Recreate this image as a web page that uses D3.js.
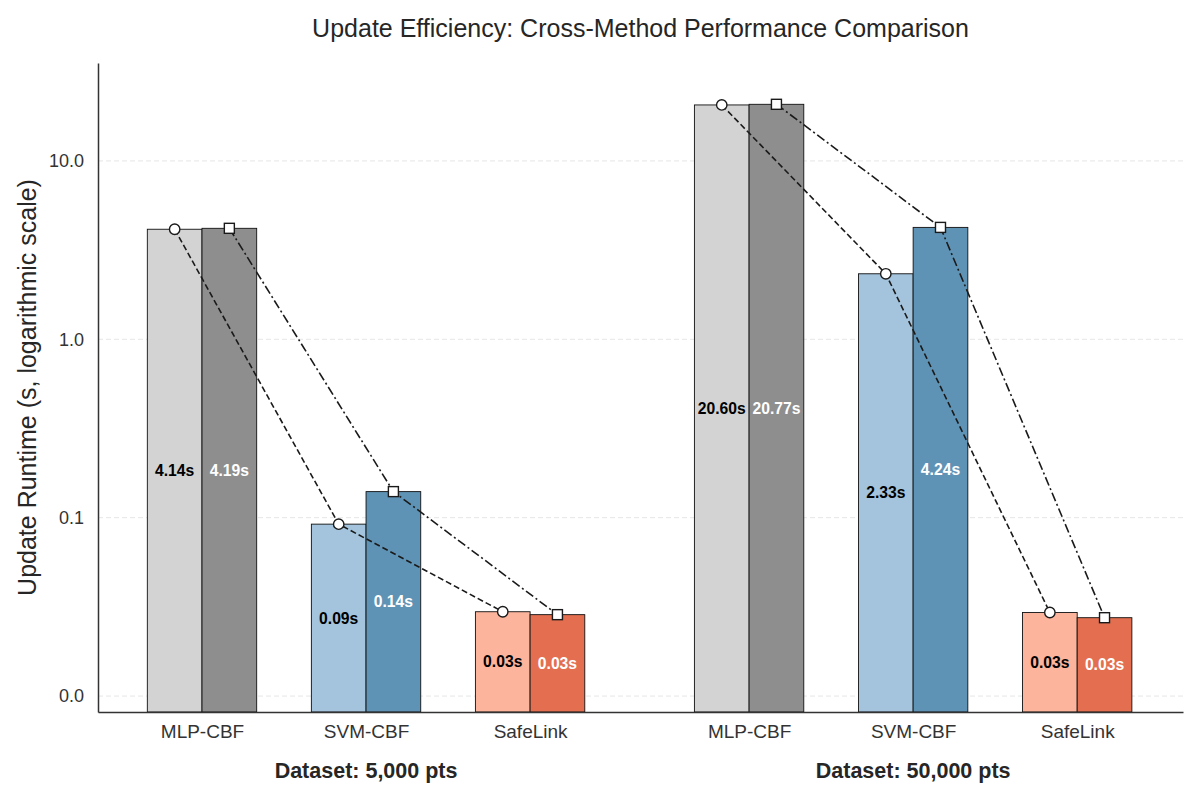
<!DOCTYPE html>
<html>
<head>
<meta charset="utf-8">
<script src="https://cdn.jsdelivr.net/npm/d3@7"></script>
<style>
  body { margin: 0; background: #fff; }
  text { font-family: "Liberation Sans", Arial, sans-serif; }
</style>
</head>
<body>
<div id="vis"></div>
<script>
const FRAME_WIDTH = 1194;
const FRAME_HEIGHT = 794;
const MARGINS = {left: 98, right: 11, top: 63, bottom: 82};

// data
const DATASETS = ["Dataset: 5,000 pts", "Dataset: 50,000 pts"];
const METHODS = ["MLP-CBF", "SVM-CBF", "SafeLink"];
const LIGHT_VALUES = [[4.14, 0.092, 0.0297], [20.60, 2.33, 0.0294]];
const DARK_VALUES = [[4.19, 0.14, 0.0286], [20.77, 4.24, 0.0275]];
const Y_TICKS = [0.01, 0.1, 1, 10];

const LIGHT_COLORS = ["#d3d3d3", "#a3c4dc", "#fcb49c"];
const DARK_COLORS = ["#8e8e8e", "#5f93b5", "#e36f50"];

const GROUP_OFFSET = 3.335;
const BAR_W = 1 / 3;

const svg = d3.select("#vis")
  .append("svg")
  .attr("width", FRAME_WIDTH)
  .attr("height", FRAME_HEIGHT);

const X_SCALE = d3.scaleLinear()
  .domain([-0.634, 5.98])
  .range([MARGINS.left, FRAME_WIDTH - MARGINS.right]);

const Y_SCALE = d3.scaleLog()
  .domain([0.00814, 35.4])
  .range([FRAME_HEIGHT - MARGINS.bottom, MARGINS.top]);

const yBottom = FRAME_HEIGHT - MARGINS.bottom;

// grid
svg.append("g")
  .selectAll("line")
  .data(Y_TICKS)
  .enter()
  .append("line")
    .attr("x1", MARGINS.left)
    .attr("x2", FRAME_WIDTH - MARGINS.right)
    .attr("y1", d => Y_SCALE(d))
    .attr("y2", d => Y_SCALE(d))
    .attr("stroke", "#e6e6e6")
    .attr("stroke-dasharray", "5,3")
    .attr("stroke-width", 1);

// build flat bar list
const bars = [];
DATASETS.forEach((ds, g) => {
  METHODS.forEach((m, i) => {
    const cx = g * GROUP_OFFSET + i;
    bars.push({g: g, i: i, x: cx - BAR_W, v: LIGHT_VALUES[g][i], fill: LIGHT_COLORS[i], dark: false});
    bars.push({g: g, i: i, x: cx, v: DARK_VALUES[g][i], fill: DARK_COLORS[i], dark: true});
  });
});

svg.append("g")
  .selectAll("rect")
  .data(bars)
  .enter()
  .append("rect")
    .attr("x", d => X_SCALE(d.x))
    .attr("y", d => Y_SCALE(d.v))
    .attr("width", X_SCALE(BAR_W) - X_SCALE(0))
    .attr("height", d => yBottom - Y_SCALE(d.v))
    .attr("fill", d => d.fill)
    .attr("stroke", "#111")
    .attr("stroke-width", 0.9);

// value labels in the middle of each bar
svg.append("g")
  .selectAll("text")
  .data(bars)
  .enter()
  .append("text")
    .attr("x", d => X_SCALE(d.x + BAR_W / 2))
    .attr("y", d => (Y_SCALE(d.v) + yBottom) / 2)
    .attr("dy", "0.35em")
    .attr("text-anchor", "middle")
    .attr("font-size", 15.7)
    .attr("font-weight", "bold")
    .attr("fill", d => d.dark ? "#fff" : "#000")
    .text(d => d.v.toFixed(2) + "s");

// connecting lines
const line = d3.line().x(d => X_SCALE(d[0])).y(d => Y_SCALE(d[1]));
DATASETS.forEach((ds, g) => {
  const lightPts = METHODS.map((m, i) => [g * GROUP_OFFSET + i - BAR_W / 2, LIGHT_VALUES[g][i]]);
  const darkPts = METHODS.map((m, i) => [g * GROUP_OFFSET + i + BAR_W / 2, DARK_VALUES[g][i]]);

  svg.append("path")
    .attr("d", line(lightPts))
    .attr("fill", "none")
    .attr("stroke", "#1a1a1a")
    .attr("stroke-width", 1.6)
    .attr("stroke-dasharray", "6,3");

  svg.append("path")
    .attr("d", line(darkPts))
    .attr("fill", "none")
    .attr("stroke", "#1a1a1a")
    .attr("stroke-width", 1.6)
    .attr("stroke-dasharray", "9,3,2,3");

  svg.append("g")
    .selectAll("circle")
    .data(lightPts)
    .enter()
    .append("circle")
      .attr("cx", d => X_SCALE(d[0]))
      .attr("cy", d => Y_SCALE(d[1]))
      .attr("r", 5.2)
      .attr("fill", "#fff")
      .attr("stroke", "#1a1a1a")
      .attr("stroke-width", 1.4);

  svg.append("g")
    .selectAll("rect")
    .data(darkPts)
    .enter()
    .append("rect")
      .attr("x", d => X_SCALE(d[0]) - 5)
      .attr("y", d => Y_SCALE(d[1]) - 5)
      .attr("width", 10)
      .attr("height", 10)
      .attr("fill", "#fff")
      .attr("stroke", "#1a1a1a")
      .attr("stroke-width", 1.4);
});

// y axis
const yAxis = svg.append("g")
  .attr("transform", "translate(" + MARGINS.left + ",0)")
  .call(d3.axisLeft(Y_SCALE).tickValues(Y_TICKS).tickSize(0).tickPadding(14)
    .tickFormat(d => d3.format(".1f")(d)));
yAxis.select(".domain").attr("stroke", "#333").attr("stroke-width", 1.5);
yAxis.selectAll("text").attr("font-size", 18).attr("fill", "#333")
  .style("font-family", "'Liberation Sans', Arial, sans-serif");

// x axis
const xTicks = [];
DATASETS.forEach((ds, g) => METHODS.forEach((m, i) => xTicks.push(g * GROUP_OFFSET + i)));
const xAxis = svg.append("g")
  .attr("transform", "translate(0," + yBottom + ")")
  .call(d3.axisBottom(X_SCALE).tickValues(xTicks).tickSize(0).tickPadding(13)
    .tickFormat((d, k) => METHODS[k % 3]));
xAxis.select(".domain").attr("stroke", "#333").attr("stroke-width", 1.5);
xAxis.selectAll("text").attr("font-size", 19).attr("fill", "#333")
  .style("font-family", "'Liberation Sans', Arial, sans-serif");

// group labels
svg.append("g")
  .selectAll("text")
  .data(DATASETS)
  .enter()
  .append("text")
    .attr("x", (d, g) => X_SCALE(g * GROUP_OFFSET + 1))
    .attr("y", 778)
    .attr("text-anchor", "middle")
    .attr("font-size", 21.5)
    .attr("font-weight", "bold")
    .attr("fill", "#262626")
    .text(d => d);

// y label
svg.append("text")
  .attr("transform", "translate(36," + ((MARGINS.top + yBottom) / 2) + ") rotate(-90)")
  .attr("text-anchor", "middle")
  .attr("font-size", 25)
  .attr("fill", "#262626")
  .text("Update Runtime (s, logarithmic scale)");

// title
svg.append("text")
  .attr("x", (MARGINS.left + FRAME_WIDTH - MARGINS.right) / 2)
  .attr("y", 37)
  .attr("text-anchor", "middle")
  .attr("font-size", 25)
  .attr("fill", "#262626")
  .text("Update Efficiency: Cross-Method Performance Comparison");
</script>
</body>
</html>
